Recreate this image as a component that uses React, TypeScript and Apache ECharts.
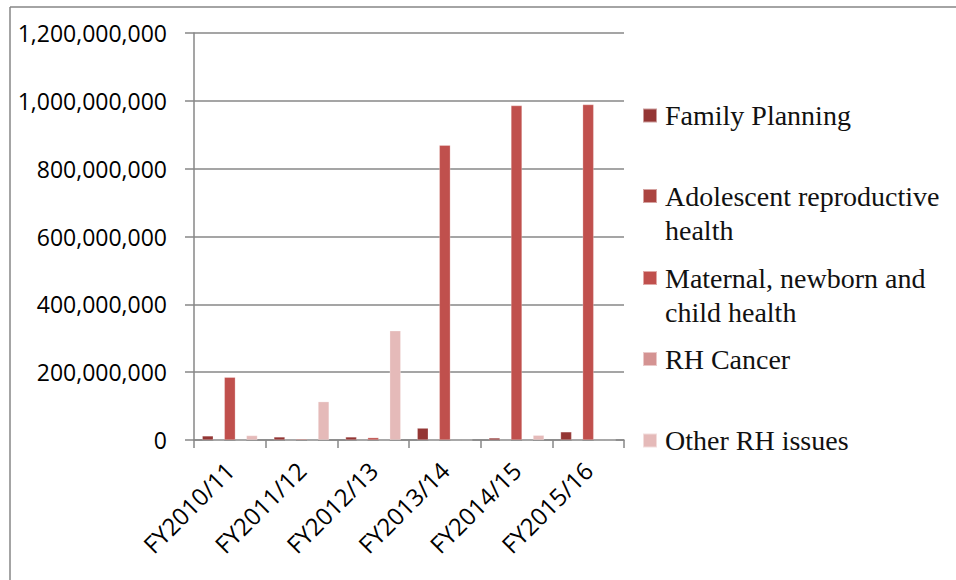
import React, { useEffect, useRef } from "react";
import * as echarts from "echarts";

const categories = ["FY2010/11", "FY2011/12", "FY2012/13", "FY2013/14", "FY2014/15", "FY2015/16"];
const seriesNames = [
  "Family Planning",
  "Adolescent reproductive health",
  "Maternal, newborn and child health",
  "RH Cancer",
  "Other RH issues",
];
const familyPlanning = [12000000, 9000000, 9000000, 35000000, 6000000, 24000000];
const adolescent = [0, 0, 0, 0, 0, 0];
const maternal = [185000000, 3000000, 7000000, 869000000, 986000000, 989000000];
const rhCancer = [0, 0, 0, 0, 0, 0];
const otherRH = [13000000, 113000000, 322000000, 0, 14000000, 0];
const yTicks = [0, 200000000, 400000000, 600000000, 800000000, 1000000000, 1200000000];

const colors = ["#943634", "#AB4541", "#C0504D", "#D49392", "#E5BAB9"];
const legendLabels = [
  "Family Planning",
  "\nAdolescent reproductive\nhealth",
  "\nMaternal, newborn and\nchild health",
  "RH Cancer",
  "Other RH issues",
];
const legendCenters = [115.5, 196, 278, 359, 440.5];

export default function App() {
  const ref = useRef<HTMLDivElement>(null);
  useEffect(() => {
    document.body.style.margin = "0";
    if (!ref.current) return;
    const chart = echarts.init(ref.current, undefined, { renderer: "svg" });
    const values = [familyPlanning, adolescent, maternal, rhCancer, otherRH];
    const axisColor = "#878787";
    const option: any = {
      animation: false,
      backgroundColor: "#ffffff",
      grid: { left: 194, right: 332, top: 33, bottom: 140, containLabel: false },
      xAxis: {
        type: "category",
        data: categories,
        axisLine: { lineStyle: { color: axisColor, width: 1.5 } },
        axisTick: { show: true, length: 8, alignWithLabel: false, lineStyle: { color: axisColor, width: 1.5 } },
        axisLabel: {
          rotate: 45,
          interval: 0,
          margin: 26,
          color: "#000",
          fontFamily: "Open Sans",
          fontSize: 24,
        },
      },
      yAxis: {
        type: "value",
        min: yTicks[0],
        max: yTicks[yTicks.length - 1],
        interval: yTicks[1] - yTicks[0],
        axisLine: { show: true, lineStyle: { color: axisColor, width: 1.5 } },
        axisTick: { show: true, inside: false, length: 9, lineStyle: { color: axisColor, width: 1.5 } },
        splitLine: { show: true, lineStyle: { color: axisColor, width: 1.5 } },
        axisLabel: {
          margin: 27,
          color: "#000",
          fontFamily: "Open Sans",
          fontSize: 23,
          formatter: (v: number) => v.toLocaleString("en-US"),
        },
      },
      legend: seriesNames.map((name, i) => ({
        data: [name],
        orient: "vertical",
        left: 642,
        top: legendCenters[i] - (legendLabels[i].startsWith("\n") ? 51 : 17),
        padding: 0,
        itemWidth: 14,
        itemHeight: 14,
        icon: "rect",
        selectedMode: false,
        formatter: () => legendLabels[i],
        textStyle: {
          fontFamily: "Liberation Serif",
          fontSize: 28,
          lineHeight: 34,
          color: "#111",
          padding: [0, 0, 0, 3],
        },
      })),
      graphic: [
        { type: "line", shape: { x1: 10, y1: 7, x2: 956, y2: 7 }, style: { stroke: "#868686", lineWidth: 1.5 } },
        { type: "line", shape: { x1: 10, y1: 7, x2: 10, y2: 580 }, style: { stroke: "#868686", lineWidth: 1.5 } },
      ],
      series: seriesNames.map((name, i) => ({
        name,
        type: "bar",
        data: values[i],
        barGap: "0%",
        barCategoryGap: "23%",
        itemStyle: { color: colors[i], borderColor: "rgba(255,255,255,0.5)", borderWidth: 0.5 },
      })),
    };
    chart.setOption(option);
    return () => chart.dispose();
  }, []);
  return <div ref={ref} style={{ width: 956, height: 580 }} />;
}
